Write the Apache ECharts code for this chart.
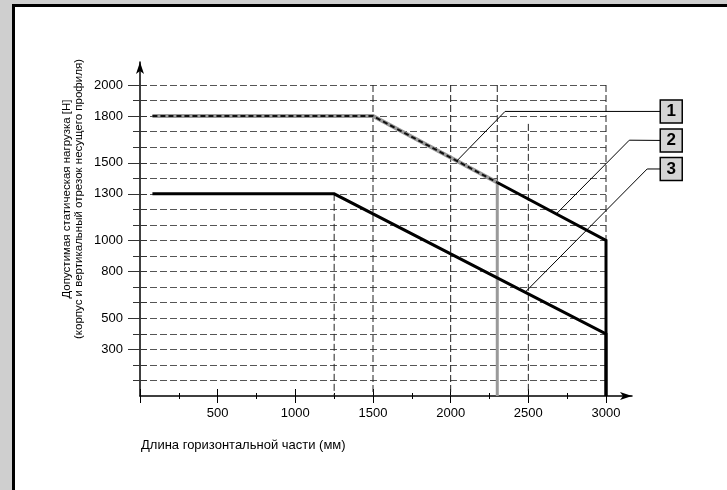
<!DOCTYPE html>
<html>
<head>
<meta charset="utf-8">
<title>Допустимая статическая нагрузка</title>
<script src="https://cdn.jsdelivr.net/npm/echarts@6/dist/echarts.min.js"></script>
<style>
  html, body { margin: 0; padding: 0; background: #ffffff; }
  .strip { position: absolute; }
  #grayLeft { left: 0; top: 0; width: 12px; height: 490px; background: #cfcfcf; }
  #grayTop { left: 0; top: 0; width: 727px; height: 4px; background: #cfcfcf; }
  #frameLeft { left: 12px; top: 4px; width: 3px; height: 486px; background: #000; }
  #frameTop { left: 12px; top: 4px; width: 715px; height: 3px; background: #000; }
  #chart { position: absolute; left: 0; top: 0; width: 727px; height: 490px; }
</style>
</head>
<body>
<div class="strip" id="grayLeft"></div>
<div class="strip" id="grayTop"></div>
<div class="strip" id="frameLeft"></div>
<div class="strip" id="frameTop"></div>
<div id="chart"></div>
<script>
// Horizontal length of the profile (mm) vs. permissible static load (N)
const xTickLabels = [500, 1000, 1500, 2000, 2500, 3000];
const yTickLabels = [300, 500, 800, 1000, 1300, 1500, 1800, 2000];
const yGridValues = [100, 200, 300, 400, 500, 600, 700, 800, 900, 1000,
                     1100, 1200, 1300, 1400, 1500, 1600, 1700, 1800, 1900, 2000];

// Curve 1: housing limit up to the marked length (grey-dashed part)
const curve1 = [[80, 1800], [1500, 1800], [2300, 1373]];
// Curve 2: continuation of the same limit beyond the marked length
const curve2 = [[2300, 1373], [3000, 1000], [3000, 0]];
// Curve 3: vertical section limit
const curve3 = [[80, 1300], [1250, 1300], [3000, 400], [3000, 0]];
// Marked length (grey vertical)
const marker = [[2300, 1373], [2300, 0]];

// Vertical dashed guides: [x, top, bottom]
const guides = [[1250, 1300, 0], [1500, 2000, 0], [2000, 2000, 0],
                [2300, 2000, 0], [2500, 1750, 0], [3000, 2000, 0]];

// Callouts: label, box centre, elbow of leader, point on curve
const calloutLabels = ['1', '2', '3'];
const calloutBoxes = [[3420, 1830], [3420, 1643], [3420, 1460]];
const calloutElbows = [[2350, 1830], [3150, 1645], [3265, 1460]];
const calloutTargets = [[2040, 1512], [2680, 1171], [2480, 668]];

const X_MAX = 3000;
const X_MAX_WIDE = 3600;   // annotation layer reaches past the plot to the boxes

const FONT = "'Liberation Sans', Arial, Helvetica, sans-serif";
const GRID_COLOR = '#555';

const chart = echarts.init(document.getElementById('chart'), null, { renderer: 'canvas' });

const plotLeft = 140, plotWidth = 466, plotTop = 85, plotBottom = 94;
const wideWidth = plotWidth * X_MAX_WIDE / X_MAX;

const series = [];

guides.forEach(g => {
  series.push({
    type: 'line', xAxisIndex: 0, yAxisIndex: 0, symbol: 'none', silent: true,
    data: [[g[0], g[1]], [g[0], g[2]]],
    lineStyle: { color: '#222', width: 1, type: [7, 3] }, z: 1
  });
});

// Grey band with black dashes
series.push({
  type: 'line', xAxisIndex: 0, yAxisIndex: 0, symbol: 'none', data: curve1,
  lineStyle: { color: '#9a9a9a', width: 4, cap: 'butt', join: 'miter' }, z: 3
});
series.push({
  type: 'line', xAxisIndex: 0, yAxisIndex: 0, symbol: 'none', data: curve1,
  lineStyle: { color: '#111', width: 2, type: [5, 3], cap: 'butt', join: 'miter' }, z: 4
});
series.push({
  type: 'line', xAxisIndex: 0, yAxisIndex: 0, symbol: 'none', data: marker,
  lineStyle: { color: '#9a9a9a', width: 3, cap: 'butt' }, z: 3
});
series.push({
  type: 'line', xAxisIndex: 0, yAxisIndex: 0, symbol: 'none', data: curve2,
  lineStyle: { color: '#000', width: 3, cap: 'butt', join: 'miter' }, z: 5
});
series.push({
  type: 'line', xAxisIndex: 0, yAxisIndex: 0, symbol: 'none', data: curve3,
  lineStyle: { color: '#000', width: 3, cap: 'butt', join: 'miter' }, z: 5
});

// Leader lines (annotation layer)
calloutLabels.forEach((lab, i) => {
  series.push({
    type: 'line', xAxisIndex: 3, yAxisIndex: 4, symbol: 'none', silent: true,
    data: [[calloutBoxes[i][0], calloutBoxes[i][1]], calloutElbows[i], calloutTargets[i]],
    lineStyle: { color: '#000', width: 1 }, z: 6
  });
});

// Numbered boxes
series.push({
  type: 'scatter', xAxisIndex: 3, yAxisIndex: 4, silent: true,
  symbol: 'rect', symbolSize: [22, 23],
  data: calloutBoxes.map((b, i) => ({ value: b, name: calloutLabels[i] })),
  itemStyle: { color: '#d4d4d4', borderColor: '#000', borderWidth: 1.5, opacity: 1 },
  label: {
    show: true, position: 'inside', formatter: p => p.name,
    fontFamily: FONT, fontSize: 17, fontWeight: 'bold', color: '#000'
  },
  z: 8
});

const hiddenAxis = {
  axisLine: { show: false }, axisTick: { show: false },
  axisLabel: { show: false }, splitLine: { show: false }
};

const option = {
  animation: false,
  textStyle: { fontFamily: FONT },
  grid: [
    { left: plotLeft, width: plotWidth, top: plotTop, bottom: plotBottom },
    { left: plotLeft, width: 492, top: 62, bottom: plotBottom },
    { left: plotLeft, width: wideWidth, top: plotTop, bottom: plotBottom }
  ],
  xAxis: [
    {
      type: 'value', gridIndex: 0, position: 'bottom', min: 0, max: X_MAX, interval: 500,
      axisLine: { show: false },
      axisTick: { show: true, inside: false, length: 7, lineStyle: { color: '#000', width: 1 } },
      minorTick: { show: true, splitNumber: 2, length: 3, lineStyle: { color: '#000', width: 1 } },
      axisLabel: {
        margin: 11, color: '#000', fontSize: 13, fontFamily: FONT,
        customValues: xTickLabels, formatter: v => String(v)
      },
      splitLine: { show: false }, minorSplitLine: { show: false }
    },
    {
      type: 'value', gridIndex: 0, position: 'bottom', min: 0, max: X_MAX, interval: 500,
      axisLine: { show: false },
      axisTick: { show: true, inside: true, length: 7, lineStyle: { color: '#000', width: 1 } },
      minorTick: { show: true, splitNumber: 2, length: 3, lineStyle: { color: '#000', width: 1 } },
      axisLabel: { show: false }, splitLine: { show: false }
    },
    {
      type: 'value', gridIndex: 1, position: 'bottom', min: 0, max: 1,
      axisLine: { show: true, symbol: ['none', 'arrow'], symbolSize: [6, 12],
                  lineStyle: { color: '#000', width: 1.5 } },
      axisTick: { show: false }, axisLabel: { show: false }, splitLine: { show: false }
    },
    Object.assign({ type: 'value', gridIndex: 2, position: 'bottom', min: 0, max: X_MAX_WIDE }, hiddenAxis)
  ],
  yAxis: [
    {
      type: 'value', gridIndex: 0, position: 'left', min: 0, max: 2000, interval: 100,
      axisLine: { show: false },
      axisTick: { show: true, inside: false, length: 12, customValues: yTickLabels,
                  lineStyle: { color: '#333', width: 1 } },
      axisLabel: { margin: 17, color: '#000', fontSize: 13, fontFamily: FONT,
                   customValues: yTickLabels, formatter: v => String(v) },
      splitLine: { show: false }
    },
    {
      type: 'value', gridIndex: 0, position: 'left', min: 0, max: 2000, interval: 100,
      axisLine: { show: false },
      axisTick: { show: true, inside: false, length: 7, customValues: yGridValues,
                  lineStyle: { color: '#333', width: 1 } },
      axisLabel: { show: false },
      splitLine: { show: true, lineStyle: { color: GRID_COLOR, width: 1, type: [7, 3] } }
    },
    {
      type: 'value', gridIndex: 0, position: 'left', min: 0, max: 2000, interval: 100,
      axisLine: { show: false },
      axisTick: { show: true, inside: true, length: 7, customValues: yGridValues,
                  lineStyle: { color: '#333', width: 1 } },
      axisLabel: { show: false }, splitLine: { show: false }
    },
    {
      type: 'value', gridIndex: 1, position: 'left', min: 0, max: 1,
      axisLine: { show: true, symbol: ['none', 'arrow'], symbolSize: [6, 12],
                  lineStyle: { color: '#000', width: 1.5 } },
      axisTick: { show: false }, axisLabel: { show: false }, splitLine: { show: false }
    },
    Object.assign({ type: 'value', gridIndex: 2, position: 'left', min: 0, max: 2000 }, hiddenAxis)
  ],
  graphic: [
    {
      type: 'text', x: 72.5, y: 199, rotation: Math.PI / 2,
      style: {
        text: 'Допустимая статическая нагрузка [Н]\n(корпус и вертикальный отрезок несущего профиля)',
        fill: '#000', font: '11.5px ' + FONT, align: 'center', verticalAlign: 'middle', lineHeight: 12
      }
    },
    {
      type: 'text', x: 141, y: 445,
      style: {
        text: 'Длина горизонтальной части (мм)',
        fill: '#000', font: '13px ' + FONT, align: 'left', verticalAlign: 'middle'
      }
    }
  ],
  series: series
};

chart.setOption(option);
</script>
</body>
</html>
